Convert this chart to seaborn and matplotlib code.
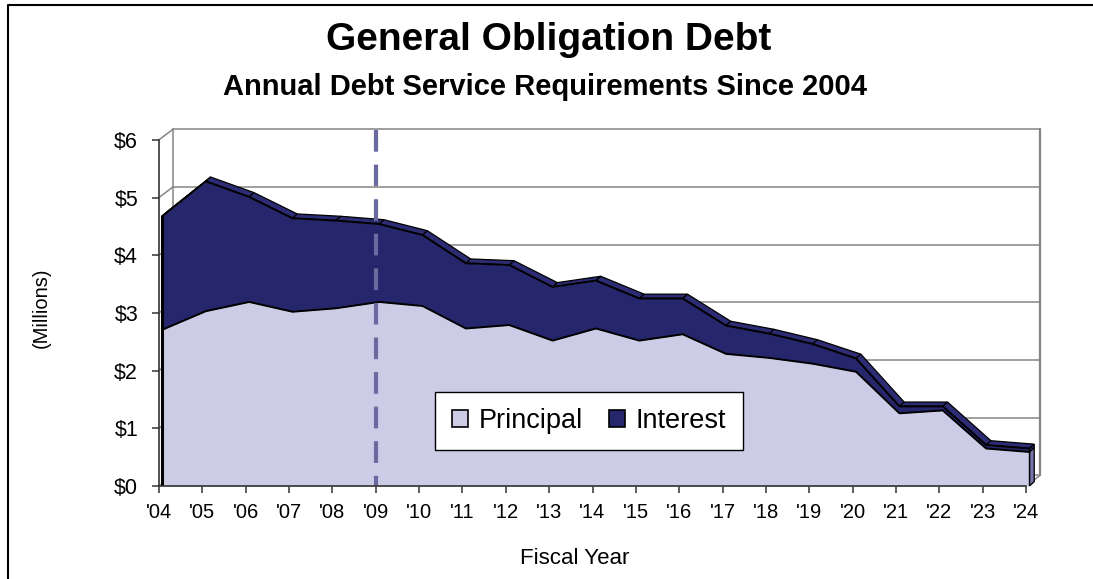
import numpy as np
import pandas as pd
import matplotlib
matplotlib.use("Agg")
import matplotlib.pyplot as plt
import seaborn as sns
from matplotlib.patches import Polygon, Patch
from matplotlib.lines import Line2D

# ---- data (millions of dollars) ----
years = ["'04", "'05", "'06", "'07", "'08", "'09", "'10", "'11", "'12", "'13", "'14",
         "'15", "'16", "'17", "'18", "'19", "'20", "'21", "'22", "'23", "'24"]
principal = [2.71, 3.03, 3.19, 3.02, 3.08, 3.19, 3.12, 2.73, 2.79, 2.52, 2.73,
             2.52, 2.63, 2.29, 2.22, 2.12, 1.98, 1.26, 1.31, 0.65, 0.59]
interest = [1.97, 2.25, 1.82, 1.62, 1.52, 1.35, 1.23, 1.13, 1.04, 0.93, 0.83,
            0.73, 0.62, 0.49, 0.42, 0.34, 0.23, 0.12, 0.07, 0.06, 0.06]
y_ticks = [0, 1, 2, 3, 4, 5, 6]
y_tick_labels = ["$0", "$1", "$2", "$3", "$4", "$5", "$6"]
marker_year = "'09"
series_names = ["Principal", "Interest"]

sns.set_style("ticks")
plt.rcParams['font.family'] = ['Liberation Sans', 'DejaVu Sans']
plt.rcParams['text.color'] = 'black'
plt.rcParams['xtick.labelcolor'] = 'black'
plt.rcParams['ytick.labelcolor'] = 'black'

W, H = 1093, 579
fig = plt.figure(figsize=(W / 100, H / 100), dpi=100)
PX_X, PX_Y = 43.35, 57.7
ax = fig.add_axes([159 / W, 93 / H, 886 / W, 361 / H])
ax.set_xlim(0, 886 / PX_X)
ax.set_ylim(0, 361 / PX_Y)

n = len(years)
x = np.arange(n)
P = np.array(principal)
T = P + np.array(interest)
df = pd.DataFrame({"pos": x, "Principal": P, "Total": T})

DX, DY = 14 / PX_X, 10.6 / PX_Y      # wall depth
ox = 0.08                            # area front-face offset
adx, ady = 0.11, 0.075               # area depth
xf = df["pos"].values + ox

light = '#CCCCE6'
navy = '#26266C'
navy_top = '#2C2C74'
end_face = '#7474A6'
grid_c = '#858585'

# back wall + side wall gridlines
for k in y_ticks:
    ax.plot([DX, n - 1 + DX], [k + DY, k + DY], color=grid_c, lw=1.1, zorder=1, clip_on=False)
    ax.plot([0, DX], [k, k + DY], color=grid_c, lw=1.1, zorder=1, clip_on=False)
ax.plot([DX, DX], [DY, y_ticks[-1] + DY], color=grid_c, lw=1.1, zorder=1, clip_on=False)
ax.plot([n - 1 + DX] * 2, [DY, y_ticks[-1] + DY], color=grid_c, lw=1.6, zorder=1, clip_on=False)
ax.plot([n - 1, n - 1 + DX], [0, DY], color=grid_c, lw=1.1, zorder=1, clip_on=False)

# top face of the stacked area
for i in range(n - 1):
    poly = Polygon([(xf[i], T[i]), (xf[i + 1], T[i + 1]),
                    (xf[i + 1] + adx, T[i + 1] + ady), (xf[i] + adx, T[i] + ady)],
                   closed=True, facecolor=navy_top, edgecolor='black', lw=0.9, zorder=2.5)
    ax.add_patch(poly)
# right end faces
ax.add_patch(Polygon([(xf[-1], 0), (xf[-1] + adx, ady), (xf[-1] + adx, P[-1] + ady), (xf[-1], P[-1])],
                     closed=True, facecolor=end_face, edgecolor='black', lw=0.9, zorder=2.5, clip_on=False))
ax.add_patch(Polygon([(xf[-1], P[-1]), (xf[-1] + adx, P[-1] + ady), (xf[-1] + adx, T[-1] + ady), (xf[-1], T[-1])],
                     closed=True, facecolor=navy, edgecolor='black', lw=0.9, zorder=2.5, clip_on=False))

# front faces
ax.fill_between(xf, 0, P, color=light, lw=0, zorder=3)
ax.fill_between(xf, P, T, color=navy, lw=0, zorder=3)
sns.lineplot(x=xf, y=df["Principal"].values, color='black', lw=1.4, zorder=4, ax=ax)
sns.lineplot(x=xf, y=df["Total"].values, color='black', lw=1.4, zorder=4, ax=ax)
ax.plot([xf[0]] * 2, [0, T[0]], color='black', lw=2.2, zorder=4)
ax.plot([xf[-1]] * 2, [0, T[-1]], color='black', lw=1.0, zorder=4)

# dashed marker line
i9 = years.index(marker_year)
ax.plot([i9, i9], [6.17, 0], color='#6A6AA0', lw=3, dashes=(5.2, 3.1), zorder=5,
        solid_capstyle='butt', dash_capstyle='butt', clip_on=False)

# axes
for s in ['top', 'right']:
    ax.spines[s].set_visible(False)
ax.spines['left'].set_bounds(0, y_ticks[-1])
ax.spines['bottom'].set_bounds(0, n - 1)
for s in ['left', 'bottom']:
    ax.spines[s].set_color('#333333')
    ax.spines[s].set_linewidth(1.2)
    ax.spines[s].set_zorder(6)
ax.set_xticks(x, years)
ax.set_yticks(y_ticks, y_tick_labels)
ax.tick_params(axis='both', direction='out', length=5, width=1.1, color='#333333',
               bottom=True, left=True, labelcolor='black')
ax.tick_params(axis='x', labelsize=14.5, pad=7)
ax.tick_params(axis='y', labelsize=15.5, pad=10)
ax.set_xlabel("")
ax.set_ylabel("")
ax.set_facecolor('none')

# texts
fig.text(549 / W, 1 - 40 / H, "General Obligation Debt", ha='center', va='center',
         fontsize=28, fontweight='bold', color='black')
fig.text(545 / W, 1 - 87 / H, "Annual Debt Service Requirements Since 2004", ha='center', va='center',
         fontsize=21, fontweight='bold', color='black')
fig.text(575 / W, 1 - 558 / H, "Fiscal Year", ha='center', va='center', fontsize=16, color='black')
fig.text(41 / W, 1 - 308 / H, "(Millions)", ha='center', va='center', fontsize=14.5, rotation=90,
         color='black')

# legend
handles = [Patch(facecolor=light, edgecolor='black', lw=1.2, label=series_names[0]),
           Patch(facecolor=navy, edgecolor='black', lw=1.2, label=series_names[1])]
leg = ax.legend(handles=handles, loc='center', bbox_to_anchor=(589 / W, 1 - 421 / H),
                bbox_transform=fig.transFigure, ncol=2, fontsize=19.5, frameon=True,
                fancybox=False, edgecolor='black', framealpha=1, handlelength=0.6,
                handleheight=0.6, handletextpad=0.4, columnspacing=0.95, borderpad=0.6,
                borderaxespad=0)
leg.get_frame().set_linewidth(1.0)
leg.set_zorder(10)
for t in leg.get_texts():
    t.set_color('black')

# outer border (top and left)
fig.add_artist(Line2D([8 / W, 8 / W, 1], [0, 1 - 5 / H, 1 - 5 / H], transform=fig.transFigure,
                      color='black', lw=1.5))

fig.savefig("out.png", dpi=100)
